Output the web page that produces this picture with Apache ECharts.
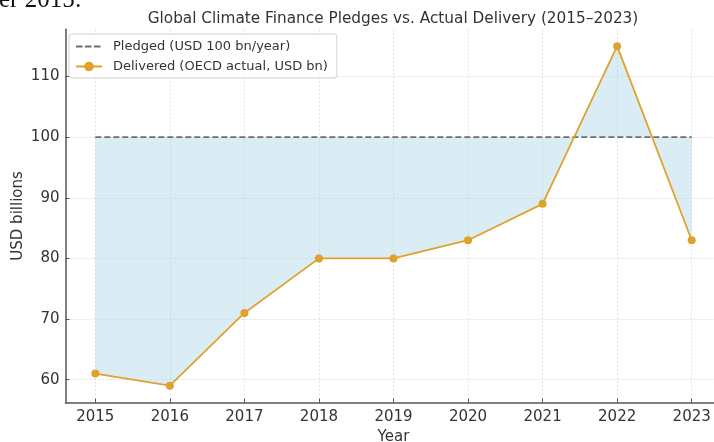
<!DOCTYPE html>
<html>
<head>
<meta charset="utf-8">
<script src="https://cdn.jsdelivr.net/npm/echarts@6/dist/echarts.min.js"></script>
<style>
html,body{margin:0;padding:0;background:#fff;}
#chart{width:714px;height:442px;}
</style>
</head>
<body>
<div id="chart"></div>
<script>
const years = [2015, 2016, 2017, 2018, 2019, 2020, 2021, 2022, 2023];
const pledged = [100, 100, 100, 100, 100, 100, 100, 100, 100];
const delivered = [61, 59, 71, 80, 80, 83, 89, 115, 83];
const titleText = 'Global Climate Finance Pledges vs. Actual Delivery (2015–2023)';
const pledgedName = 'Pledged (USD 100 bn/year)';
const deliveredName = 'Delivered (OECD actual, USD bn)';

const FONT = '"DejaVu Sans", sans-serif';
const DASH_ICON = 'path://M0,0h0.01v0.01h-0.01z M0,5h6.5v2h-6.5z M9,5h6.5v2h-6.5z M18,5h6.5v2h-6.5z M26,12h0.01v0.01h-0.01z';
const chart = echarts.init(document.getElementById('chart'), null, {renderer: 'canvas'});

const option = {
  animation: false,
  backgroundColor: '#ffffff',
  title: {
    text: titleText,
    left: 388, top: 7, textAlign: 'center',
    textStyle: {fontFamily: FONT, fontSize: 15.3, fontWeight: 'normal', color: '#333'}
  },
  graphic: [{
    type: 'text', left: -1, top: -12,
    style: {text: 'er 2015:', font: '25px "Liberation Serif", serif', fill: '#111'}
  }],
  legend: {
    orient: 'vertical', left: 69, top: 34,
    itemWidth: 26, itemHeight: 12, itemGap: 7,
    padding: [6, 9, 5, 6],
    backgroundColor: 'rgba(255,255,255,0.85)',
    borderColor: '#d0d0d0', borderWidth: 1, borderRadius: 3,
    textStyle: {fontFamily: FONT, fontSize: 13, color: '#333', padding: [0, 0, 0, 6]},
    data: [{name: pledgedName, icon: DASH_ICON}, {name: deliveredName}]
  },
  grid: {left: 65.5, top: 29.2, width: 656, height: 373.5, containLabel: false, outerBoundsMode: 'none'},
  xAxis: {
    type: 'value', min: 2014.6, max: 2023.4, splitNumber: 9,
    name: 'Year', nameLocation: 'middle', nameGap: 27, nameMoveOverlap: false,
    nameTextStyle: {fontFamily: FONT, fontSize: 15, color: '#333'},
    axisLine: {show: true, onZero: false, lineStyle: {color: '#555', width: 1.5}},
    axisTick: {show: true, inside: true, length: 4, lineStyle: {color: '#555'}},
    axisLabel: {
      fontFamily: FONT, fontSize: 15, color: '#333', margin: 7,
      showMinLabel: false, showMaxLabel: false,
      formatter: v => (Math.abs(v - Math.round(v)) < 1e-6 ? String(Math.round(v)) : '')
    },
    splitLine: {show: true, showMinLine: false, showMaxLine: false,
      lineStyle: {color: '#d8d8d8', type: [2, 2], width: 0.8}}
  },
  yAxis: {
    type: 'value', min: 56.2, max: 117.8, splitNumber: 6,
    name: 'USD billions', nameLocation: 'middle', nameGap: 40, nameRotate: 90, nameMoveOverlap: false,
    nameTextStyle: {fontFamily: FONT, fontSize: 15, color: '#333'},
    axisLine: {show: true, lineStyle: {color: '#555', width: 1.5}},
    axisTick: {show: true, inside: true, length: 4, lineStyle: {color: '#555'}},
    axisLabel: {
      fontFamily: FONT, fontSize: 15, color: '#333', margin: 6,
      showMinLabel: false, showMaxLabel: false,
      formatter: v => (Math.abs(v / 10 - Math.round(v / 10)) < 1e-6 ? String(v) : '')
    },
    splitLine: {show: true, showMinLine: false, showMaxLine: false,
      lineStyle: {color: '#d8d8d8', type: [2, 2], width: 0.8}}
  },
  series: [
    {
      type: 'custom', name: 'fill', silent: true, z: 1,
      clip: true,
      data: [[0]],
      renderItem: function (params, api) {
        const pts = [];
        for (let i = 0; i < years.length; i++) pts.push(api.coord([years[i], delivered[i]]));
        for (let i = years.length - 1; i >= 0; i--) pts.push(api.coord([years[i], pledged[i]]));
        return {
          type: 'polygon',
          shape: {points: pts},
          style: {fill: 'rgba(173,216,230,0.45)', stroke: null}
        };
      }
    },
    {
      type: 'line', name: pledgedName, z: 3,
      data: years.map((y, i) => [y, pledged[i]]),
      symbol: 'none',
      lineStyle: {color: '#6e6e6e', width: 1.8, type: [6, 3]},
      itemStyle: {color: '#6e6e6e'}
    },
    {
      type: 'line', name: deliveredName, z: 4,
      data: years.map((y, i) => [y, delivered[i]]),
      symbol: 'circle', symbolSize: 8,
      lineStyle: {color: '#e0a22c', width: 1.8},
      itemStyle: {color: '#e0a22c'}
    }
  ]
};
chart.setOption(option);
</script>
</body>
</html>
